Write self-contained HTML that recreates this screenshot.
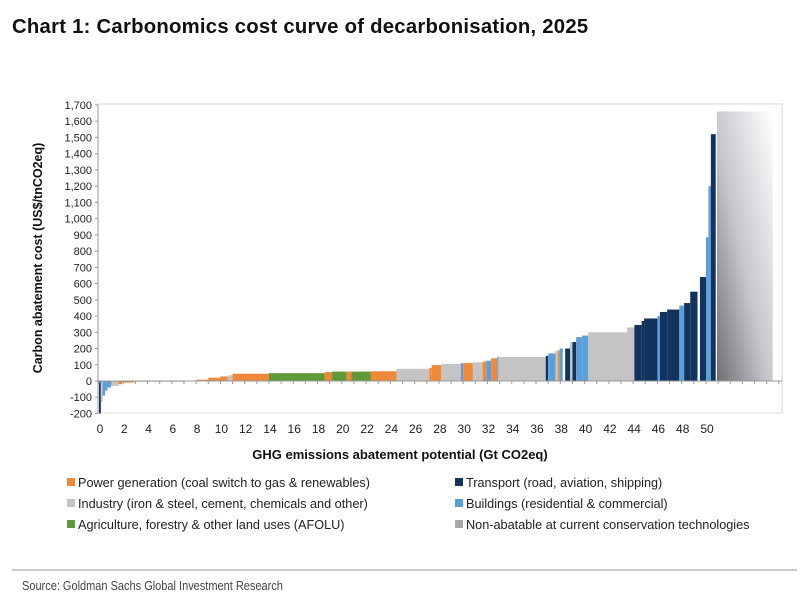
<!DOCTYPE html>
<html><head><meta charset="utf-8"><style>
body{margin:0;background:#fff;width:811px;height:600px;overflow:hidden;font-family:"Liberation Sans",Arial,sans-serif}
svg{display:block}
</style></head><body>
<svg id="chart" width="811" height="600" xmlns="http://www.w3.org/2000/svg">
<defs>
<linearGradient id="nonab" x1="0" y1="1" x2="1" y2="0">
<stop offset="0" stop-color="#6e6e72"/><stop offset="0.45" stop-color="#c4c6cc"/><stop offset="1" stop-color="#ffffff"/>
</linearGradient>
</defs>
<text x="12" y="33" font-size="20.3" letter-spacing="0.25" font-weight="bold" fill="#111">Chart 1: Carbonomics cost curve of decarbonisation, 2025</text>
<rect x="98" y="104" width="684" height="309" fill="none" stroke="#d9d9d9" stroke-width="1"/>
<g id="bars"></g>
<g id="axes"></g>
<text transform="translate(42,258) rotate(-90)" text-anchor="middle" font-size="12.5" font-weight="bold" fill="#111">Carbon abatement cost (US$/tnCO2eq)</text>
<text x="400" y="459" text-anchor="middle" font-size="13" font-weight="bold" fill="#111">GHG emissions abatement potential (Gt CO2eq)</text>
<g font-size="12.7" fill="#222">
<g><rect x="67" y="478" width="8" height="8" fill="#f0883a"/><text x="78" y="487">Power generation (coal switch to gas &amp; renewables)</text></g>
<g><rect x="67" y="499" width="8" height="8" fill="#c4c4c4"/><text x="78" y="508">Industry (iron &amp; steel, cement, chemicals and other)</text></g>
<g><rect x="67" y="520" width="8" height="8" fill="#5e9a3a"/><text x="78" y="529">Agriculture, forestry &amp; other land uses (AFOLU)</text></g>
<g><rect x="455" y="478" width="8" height="8" fill="#12335e"/><text x="466" y="487">Transport (road, aviation, shipping)</text></g>
<g><rect x="455" y="499" width="8" height="8" fill="#5b9fd8"/><text x="466" y="508">Buildings (residential &amp; commercial)</text></g>
<g><rect x="455" y="520" width="8" height="8" fill="#a8a8a8"/><text x="466" y="529">Non-abatable at current conservation technologies</text></g>
</g>
<line x1="12" y1="570" x2="797" y2="570" stroke="#bbb" stroke-width="1.5"/>
<text x="22" y="590" font-size="12.5" fill="#444" transform="translate(22,0) scale(0.88,1) translate(-22,0)">Source: Goldman Sachs Global Investment Research</text>
</svg>
<script>
const widths = [0.15,0.15,0.2,0.2,0.3,0.6,0.3,1.0,4.1,1.0,1.0,1.0,0.6,0.4,3.0,4.6,0.6,1.2,0.4,1.6,2.1,2.7,0.2,0.8,1.6,0.2,0.8,0.8,0.3,0.4,0.5,0.1,3.9,0.2,0.6,0.2,0.15,0.25,0.2,0.4,0.2,0.3,0.5,0.5,3.2,0.6,0.6,0.2,1.1,0.2,0.6,1.0,0.4,0.5,0.6,0.2,0.5,0.2,0.2,0.4];
const costs  = [-200,-130,-90,-60,-40,-30,-20,-10,-5,2,8,20,28,35,45,48,55,58,58,58,60,75,80,98,105,110,110,115,120,125,140,150,148,155,170,185,190,200,0,200,240,240,270,280,300,330,345,370,385,400,425,440,465,480,550,0,640,885,1200,1520];
const sectors= ["T","I","B","B","B","I","P","P","I","P","P","P","P","I","P","A","P","A","P","A","P","I","P","P","I","B","P","I","P","B","P","B","I","T","B","I","P","B","X","T","I","T","B","B","I","I","T","T","T","B","T","T","B","T","T","X","T","B","B","T"];
const xTicks = [0,2,4,6,8,10,12,14,16,18,20,22,24,26,28,30,32,34,36,38,40,42,44,46,48,50];
const yTicks = [-200,-100,0,100,200,300,400,500,600,700,800,900,1000,1100,1200,1300,1400,1500,1600,1700];
const nonAbatable = [50.9, 55.5, 1660];
const colors = {P:"#f0883a",I:"#c4c4c4",A:"#5e9a3a",T:"#12335e",B:"#5b9fd8",X:"none"};
const NS="http://www.w3.org/2000/svg";
function xs(v){return 99+v*12.14;}
function ys(v){return 381-v*0.1624;}
const bars=document.getElementById('bars');
let cum=0;
for(let i=0;i<widths.length;i++){
  const x0=xs(cum),x1=xs(cum+widths[i]);cum+=widths[i];
  if(sectors[i]==="X"||costs[i]===0)continue;
  const r=document.createElementNS(NS,'rect');
  
  
  const y0=ys(Math.max(costs[i],0)),y1=ys(Math.min(costs[i],0));
  r.setAttribute('x',x0);r.setAttribute('width',Math.max(x1-x0,0.8));
  r.setAttribute('y',y0);r.setAttribute('height',Math.max(y1-y0,0.8));
  r.setAttribute('fill',colors[sectors[i]]);
  bars.appendChild(r);
}
const na=document.createElementNS(NS,'rect');


na.setAttribute('x',xs(nonAbatable[0]));na.setAttribute('width',xs(nonAbatable[1])-xs(nonAbatable[0]));
na.setAttribute('y',ys(nonAbatable[2]));na.setAttribute('height',ys(0)-ys(nonAbatable[2]));
na.setAttribute('fill','url(#nonab)');
bars.appendChild(na);
const axes=document.getElementById('axes');
function ln(x1,y1,x2,y2,n){const l=document.createElementNS(NS,'line');l.setAttribute('x1',x1);l.setAttribute('y1',y1);l.setAttribute('x2',x2);l.setAttribute('y2',y2);l.setAttribute('stroke','#999');l.setAttribute('stroke-width','1');


axes.appendChild(l);}
ln(98,ys(1700),98,ys(-200),'y-axis-line');
ln(98,ys(0),782,ys(0),'x-axis-line');
for(const t of yTicks){
  ln(95,ys(t),98,ys(t),'y-tick');
  const tx=document.createElementNS(NS,'text');
  
  
  tx.setAttribute('x',92);tx.setAttribute('y',ys(t)+4);tx.setAttribute('text-anchor','end');tx.setAttribute('font-size','11');tx.setAttribute('fill','#222');
  tx.textContent=t.toLocaleString('en-US');axes.appendChild(tx);
}
for(let v=0;v<=56;v++){ln(xs(v),ys(0),xs(v),ys(0)+3,'x-tick');}
for(const t of xTicks){
  const tx=document.createElementNS(NS,'text');
  
  
  tx.setAttribute('x',xs(t)+1);tx.setAttribute('y',433);tx.setAttribute('text-anchor','middle');tx.setAttribute('font-size','12');tx.setAttribute('fill','#222');
  tx.textContent=t;axes.appendChild(tx);
}
</script>
</body></html>
